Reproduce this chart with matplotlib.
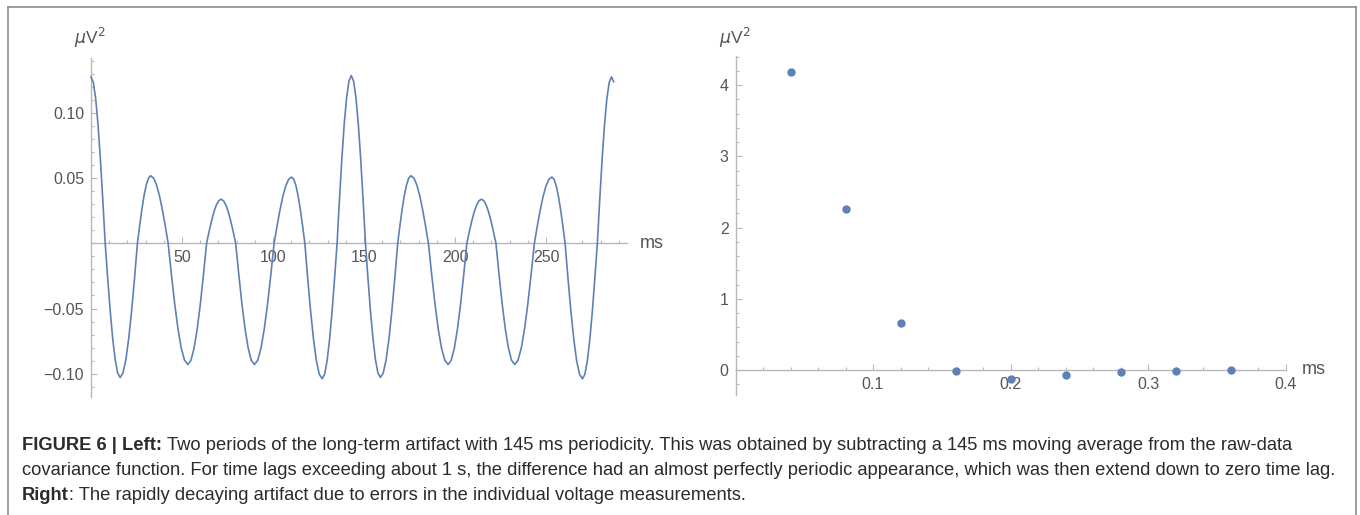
import numpy as np
import matplotlib
matplotlib.use("Agg")
import matplotlib.pyplot as plt
import matplotlib.transforms as mtransforms
from matplotlib.lines import Line2D
from matplotlib.ticker import FixedLocator, FixedFormatter, MultipleLocator

plt.rcParams['font.family'] = ['Liberation Sans', 'DejaVu Sans']

# %% data
# left: long-term artifact, two periods (time lag in ms, covariance in uV^2)
t_ms = [0.0,
        1.3, 2.6, 3.9, 5.2, 6.5, 7.8,
        9.17, 10.53, 11.9, 13.27, 14.63, 16.0,
        17.58, 19.17, 20.75, 22.33, 23.92, 25.5,
        26.72, 27.93, 29.15, 30.37, 31.58, 32.8,
        34.4, 36.0, 37.6, 39.2, 40.8, 42.4,
        44.2, 46.0, 47.8, 49.6, 51.4, 53.2,
        54.92, 56.63, 58.35, 60.07, 61.78, 63.5,
        64.83, 66.17, 67.5, 68.83, 70.17, 71.5,
        72.83, 74.17, 75.5, 76.83, 78.17, 79.5,
        81.22, 82.93, 84.65, 86.37, 88.08, 89.8,
        91.6, 93.4, 95.2, 97.0, 98.8, 100.6,
        102.2, 103.8, 105.4, 107.0, 108.6, 110.2,
        111.42, 112.63, 113.85, 115.07, 116.28, 117.5,
        119.08, 120.67, 122.25, 123.83, 125.42, 127.0,
        128.37, 129.73, 131.1, 132.47, 133.83, 135.2,
        136.5, 137.8, 139.1, 140.4, 141.7, 143.0,
        144.3, 145.6, 146.9, 148.2, 149.5, 150.8,
        152.17, 153.53, 154.9, 156.27, 157.63, 159.0,
        160.58, 162.17, 163.75, 165.33, 166.92, 168.5,
        169.72, 170.93, 172.15, 173.37, 174.58, 175.8,
        177.4, 179.0, 180.6, 182.2, 183.8, 185.4,
        187.2, 189.0, 190.8, 192.6, 194.4, 196.2,
        197.92, 199.63, 201.35, 203.07, 204.78, 206.5,
        207.83, 209.17, 210.5, 211.83, 213.17, 214.5,
        215.83, 217.17, 218.5, 219.83, 221.17, 222.5,
        224.22, 225.93, 227.65, 229.37, 231.08, 232.8,
        234.6, 236.4, 238.2, 240.0, 241.8, 243.6,
        245.2, 246.8, 248.4, 250.0, 251.6, 253.2,
        254.42, 255.63, 256.85, 258.07, 259.28, 260.5,
        262.08, 263.67, 265.25, 266.83, 268.42, 270.0,
        271.37, 272.73, 274.1, 275.47, 276.83, 278.2,
        279.5, 280.8, 282.1, 283.4, 284.7, 286.0,
        287.2]
cov_long = [0.128,
            0.1236, 0.1108, 0.0905, 0.064, 0.0331, 0.0,
            -0.0267, -0.0515, -0.0728, -0.0892, -0.0995, -0.103,
            -0.0995, -0.0892, -0.0728, -0.0515, -0.0267, 0.0,
            0.0135, 0.026, 0.0368, 0.045, 0.0502, 0.052,
            0.0502, 0.045, 0.0368, 0.026, 0.0135, 0.0,
            -0.0241, -0.0465, -0.0658, -0.0805, -0.0898, -0.093,
            -0.0898, -0.0805, -0.0658, -0.0465, -0.0241, 0.0,
            0.0088, 0.017, 0.024, 0.0294, 0.0328, 0.034,
            0.0328, 0.0294, 0.024, 0.017, 0.0088, 0.0,
            -0.0241, -0.0465, -0.0658, -0.0805, -0.0898, -0.093,
            -0.0898, -0.0805, -0.0658, -0.0465, -0.0241, 0.0,
            0.0132, 0.0255, 0.0361, 0.0442, 0.0493, 0.051,
            0.0493, 0.0442, 0.0361, 0.0255, 0.0132, 0.0,
            -0.0269, -0.052, -0.0735, -0.0901, -0.1005, -0.104,
            -0.1005, -0.0901, -0.0735, -0.052, -0.0269, 0.0,
            0.0334, 0.0645, 0.0912, 0.1117, 0.1246, 0.129,
            0.1246, 0.1117, 0.0912, 0.0645, 0.0334, 0.0,
            -0.0267, -0.0515, -0.0728, -0.0892, -0.0995, -0.103,
            -0.0995, -0.0892, -0.0728, -0.0515, -0.0267, 0.0,
            0.0135, 0.026, 0.0368, 0.045, 0.0502, 0.052,
            0.0502, 0.045, 0.0368, 0.026, 0.0135, 0.0,
            -0.0241, -0.0465, -0.0658, -0.0805, -0.0898, -0.093,
            -0.0898, -0.0805, -0.0658, -0.0465, -0.0241, 0.0,
            0.0088, 0.017, 0.024, 0.0294, 0.0328, 0.034,
            0.0328, 0.0294, 0.024, 0.017, 0.0088, 0.0,
            -0.0241, -0.0465, -0.0658, -0.0805, -0.0898, -0.093,
            -0.0898, -0.0805, -0.0658, -0.0465, -0.0241, 0.0,
            0.0132, 0.0255, 0.0361, 0.0442, 0.0493, 0.051,
            0.0493, 0.0442, 0.0361, 0.0255, 0.0132, 0.0,
            -0.0269, -0.052, -0.0735, -0.0901, -0.1005, -0.104,
            -0.1005, -0.0901, -0.0735, -0.052, -0.0269, 0.0,
            0.0331, 0.064, 0.0905, 0.1108, 0.1236, 0.128,
            0.1243]

# right: rapidly decaying artifact
lag_ms = [0.04, 0.08, 0.12, 0.16, 0.20, 0.24, 0.28, 0.32, 0.36]
cov_fast = [4.18, 2.26, 0.66, -0.02, -0.12, -0.07, -0.03, -0.015, 0.0]

left_xticks = [50, 100, 150, 200, 250]
left_yticks = [-0.10, -0.05, 0.05, 0.10]
left_ylabels = ["\u22120.10", "\u22120.05", "0.05", "0.10"]
right_xticks = [0.1, 0.2, 0.3, 0.4]
right_xlabels = ["0.1", "0.2", "0.3", "0.4"]
right_yticks = [0, 1, 2, 3, 4]

caption = [
    [("FIGURE 6 | Left:", True),
     (" Two periods of the long-term artifact with 145 ms periodicity. This was obtained by "
      "subtracting a 145 ms moving average from the raw-data", False)],
    [("covariance function. For time lags exceeding about 1 s, the difference had an almost "
      "perfectly periodic appearance, which was then extend down to zero time lag.", False)],
    [("Right", True),
     (": The rapidly decaying artifact due to errors in the individual voltage measurements.", False)],
]

# %% figure
W, H = 1360, 515
fig = plt.figure(figsize=(W / 100, H / 100), dpi=100)

blue = "#5e81b5"
axis_gray = "#b8b8b8"
label_gray = "#555555"
px = mtransforms.IdentityTransform()


def px_axes(x0, x1, ytop, ybot):
    return fig.add_axes([x0 / W, (H - ybot) / H, (x1 - x0) / W, (ybot - ytop) / H])


def style(ax):
    ax.patch.set_visible(False)
    for s in ["top", "right"]:
        ax.spines[s].set_visible(False)
    for s in ["left", "bottom"]:
        ax.spines[s].set_position(("data", 0))
        ax.spines[s].set_color(axis_gray)
        ax.spines[s].set_linewidth(1.0)
    ax.tick_params(which="both", direction="in", color=axis_gray,
                   labelcolor=label_gray, labelsize=11.5, width=0.8)
    ax.tick_params(which="major", length=4)
    ax.tick_params(which="minor", length=2.5)
    ax.tick_params(axis="x", pad=5)
    ax.tick_params(axis="y", pad=5)


# left panel
ax1 = px_axes(91, 627, 58, 397)
ax1.set_xlim(0, 294.5)
ax1.set_ylim(-0.118, 0.1425)
style(ax1)
ax1.plot(t_ms, cov_long, color=blue, lw=1.2, clip_on=False, zorder=3,
         solid_joinstyle="round")
ax1.xaxis.set_major_locator(FixedLocator(left_xticks))
ax1.xaxis.set_major_formatter(FixedFormatter([str(v) for v in left_xticks]))
ax1.xaxis.set_minor_locator(MultipleLocator(10))
ax1.yaxis.set_major_locator(FixedLocator(left_yticks))
ax1.yaxis.set_major_formatter(FixedFormatter(left_ylabels))
ax1.yaxis.set_minor_locator(MultipleLocator(0.01))

# right panel
ax2 = px_axes(735.5, 1285.5, 56, 395)
ax2.set_xlim(0, 0.4)
ax2.set_ylim(-0.35, 4.41)
style(ax2)
ax2.plot(lag_ms, cov_fast, "o", color=blue, ms=5, clip_on=False, zorder=3)
ax2.xaxis.set_major_locator(FixedLocator(right_xticks))
ax2.xaxis.set_major_formatter(FixedFormatter(right_xlabels))
ax2.xaxis.set_minor_locator(MultipleLocator(0.02))
ax2.yaxis.set_major_locator(FixedLocator(right_yticks))
ax2.yaxis.set_major_formatter(FixedFormatter([str(v) for v in right_yticks]))
ax2.yaxis.set_minor_locator(MultipleLocator(0.2))

# axis names
unit = r"$\mu$V$^2$"
fig.text(90, H - 38, unit, transform=px, ha="center", va="center",
         fontsize=12.5, color=label_gray)
fig.text(735, H - 38, unit, transform=px, ha="center", va="center",
         fontsize=12.5, color=label_gray)
fig.text(640, H - 243, "ms", transform=px, ha="left", va="center",
         fontsize=13, color=label_gray)
fig.text(1302, H - 369, "ms", transform=px, ha="left", va="center",
         fontsize=13, color=label_gray)

# outer frame
frame = dict(color="#8c8c8c", lw=1.2, transform=px)
fig.add_artist(Line2D([8, 8], [0, H - 7], **frame))
fig.add_artist(Line2D([8, 1355.5], [H - 7, H - 7], **frame))
fig.add_artist(Line2D([1355.5, 1355.5], [0, H - 7], **frame))

# caption with bold runs
renderer = fig.canvas.get_renderer()


def width_of(s, size, bold):
    t = fig.text(0, 0, s, transform=px, fontsize=size,
                 weight="bold" if bold else "normal")
    w = t.get_window_extent(renderer).width
    t.remove()
    return w


def line_width(runs, size):
    w = 0
    for s, b in runs:
        w += width_of(s.strip(), size, b)
        if s.startswith(" "):
            w += width_of("x x", size, False) - width_of("xx", size, False)
    return w


cap_size = 12
cap_size *= (1338 - 22) / line_width(caption[1], cap_size)

for row, y in zip(caption, [446, 470.5, 495]):
    x = 22
    for s, b in row:
        if s.startswith(" "):
            x += width_of("x x", cap_size, False) - width_of("xx", cap_size, False)
        t = fig.text(x, H - y, s.strip(), transform=px, fontsize=cap_size,
                     weight="bold" if b else "normal", color="#2b2b2b",
                     ha="left", va="center")
        x += t.get_window_extent(renderer).width

fig.savefig("out.png", dpi=100)
